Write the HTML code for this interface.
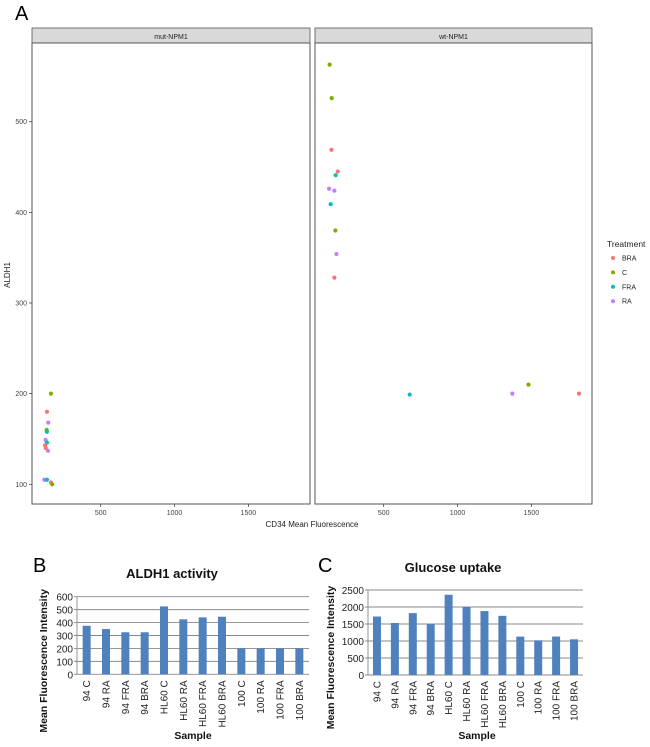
<!DOCTYPE html>
<html><head><meta charset="utf-8"><style>
body{margin:0;background:#fff;}
svg{display:block;font-family:"Liberation Sans",Arial,sans-serif;}
</style></head><body>
<svg id="fig" width="650" height="747" viewBox="0 0 650 747">
<text x="15" y="20" font-size="20">A</text>
<text x="33" y="572" font-size="20">B</text>
<text x="318" y="572" font-size="20">C</text>
<g id="scatter"></g>
<g id="barB"></g>
<g id="barC"></g>
</svg>
<script>
// ---- Scatter data ----
const treatments = ["BRA","C","FRA","RA"];
const treatColors = ["#F8766D","#7CAE00","#00BFC4","#C77CFF"];
const mutTreat = ["C","BRA","RA","C","FRA","RA","FRA","BRA","BRA","RA","RA","FRA","BRA","C"];
const mutX = [163,136,145,134,136,127,136,123,128,143,118,136,163,172];
const mutY = [200,180,168,160,158,149,146,143,140,137,105,105,102,100];
const wtTreat = ["C","C","BRA","BRA","FRA","RA","RA","FRA","C","RA","BRA","C","FRA","RA","BRA"];
const wtX = [134,148,146,189,175,130,166,141,173,180,166,1480,676,1371,1822];
const wtY = [563,526,469,445,441,426,424,409,380,354,328,210,199,200,200];
const xTicks = [500,1000,1500];
const yTicks = [100,200,300,400,500];

// ---- Bar data ----
const samples = ["94 C","94 RA","94 FRA","94 BRA","HL60 C","HL60 RA","HL60 FRA","HL60 BRA","100 C","100 RA","100 FRA","100 BRA"];
const aldhVals = [375,350,325,325,525,425,440,445,200,200,200,200];
const aldhTicks = [0,100,200,300,400,500,600];
const glucVals = [1720,1530,1820,1500,2360,2000,1880,1740,1130,1020,1130,1050];
const glucTicks = [0,500,1000,1500,2000,2500];

const NS="http://www.w3.org/2000/svg";
function mk(parent,tag,attrs,text){const e=document.createElementNS(NS,tag);for(const k in attrs)e.setAttribute(k,attrs[k]);if(text!==undefined)e.textContent=text;parent.appendChild(e);return e;}

// Scatter
const sc=document.getElementById('scatter');
const yS=v=>484.3-(v-100)*0.9065;
function facet(x0,x1,title,xs,ys,tr,name){
  const xS=v=>x0+68.7+(v-500)*0.1477;
  const g=mk(sc,'g',{});
  
  
  const strip=mk(g,'rect',{x:x0,y:28,width:x1-x0,height:15,fill:'#d9d9d9',stroke:'#555','stroke-width':0.8});
  
  
  const st=mk(g,'text',{x:(x0+x1)/2,y:39,'font-size':7,'text-anchor':'middle',fill:'#222'},title);
  
  
  const box=mk(g,'rect',{x:x0,y:43,width:x1-x0,height:461,fill:'#fff',stroke:'#555','stroke-width':1});
  
  
  xTicks.forEach(t=>{const x=xS(t);mk(g,'line',{x1:x,x2:x,y1:504,y2:507,stroke:'#333','stroke-width':0.7});
    const tt=mk(g,'text',{x:x,y:515,'font-size':7,'text-anchor':'middle',fill:'#444'},t);
    
    });
  xs.forEach((v,i)=>{const c=mk(g,'circle',{cx:xS(v),cy:yS(ys[i]),r:2.1,fill:treatColors[treatments.indexOf(tr[i])]});
    
    });
}
facet(32,310,'mut-NPM1',mutX,mutY,mutTreat,'facet-mut-npm1');
facet(315,592,'wt-NPM1',wtX,wtY,wtTreat,'facet-wt-npm1');
yTicks.forEach(t=>{const y=yS(t);mk(sc,'line',{x1:29,x2:32,y1:y,y2:y,stroke:'#333','stroke-width':0.7});
  const tt=mk(sc,'text',{x:27,y:y+2.5,'font-size':7,'text-anchor':'end',fill:'#444'},t);
  
  });
let t1=mk(sc,'text',{x:312,y:527,'font-size':8,'text-anchor':'middle',fill:'#222'},'CD34 Mean Fluorescence');


let t2=mk(sc,'text',{x:10,y:275,'font-size':8,'text-anchor':'middle',fill:'#222',transform:'rotate(-90 10 275)'},'ALDH1');


let lt=mk(sc,'text',{x:607,y:247,'font-size':8.5,fill:'#222'},'Treatment');


treatments.forEach((t,i)=>{const y=258+i*14.4;
  const d=mk(sc,'circle',{cx:613,cy:y,r:2,fill:treatColors[i]});
  
  
  const tx=mk(sc,'text',{x:622,y:y+2.5,'font-size':7,fill:'#222'},t);
  
  });

// Bars
function bars(id,vals,ticks,x0,x1,yTop,yBot,title,titleX,titleY,ytX,sampleX,key){
  const g=document.getElementById(id);
  const max=ticks[ticks.length-1];
  const yB=v=>yBot-(v/max)*(yBot-yTop);
  const slot=(x1-x0)/vals.length;
  ticks.forEach(t=>{const y=yB(t);
    mk(g,'line',{x1:x0-3,x2:x1,y1:y,y2:y,stroke:'#888','stroke-width':0.9});
    const tl=mk(g,'text',{x:x0-4,y:y+4,'font-size':10,'text-anchor':'end',fill:'#222'},t);
    
    });
  mk(g,'line',{x1:x0,x2:x0,y1:yTop,y2:yBot,stroke:'#888','stroke-width':0.9});
  vals.forEach((v,i)=>{const cx=x0+slot*(i+0.5);
    const r=mk(g,'rect',{x:cx-4,y:yB(v),width:8,height:yBot-yB(v),fill:'#4f81bd'});
    
    
    const lx=cx+3.5,ly=yBot+6;
    const l=mk(g,'text',{x:lx,y:ly,'font-size':10,'text-anchor':'end',fill:'#222',transform:`rotate(-90 ${lx} ${ly})`},samples[i]);
    
    });
  const tt=mk(g,'text',{x:titleX,y:titleY,'font-size':13,'font-weight':'bold','text-anchor':'middle',fill:'#111'},title);
  
  
  const yc=(yTop+745)/2-10;
  const yt=mk(g,'text',{x:ytX,y:yc,'font-size':10.5,'font-weight':'bold','text-anchor':'middle',fill:'#111',transform:`rotate(-90 ${ytX} ${yc})`},'Mean Fluorescence Intensity');
  
  
  const sx=mk(g,'text',{x:sampleX,y:739,'font-size':10.5,'font-weight':'bold','text-anchor':'middle',fill:'#111'},'Sample');
  
  
}
bars('barB',aldhVals,aldhTicks,77,309,596.7,674.3,'ALDH1 activity',172,578,47,193,'aldh1');
bars('barC',glucVals,glucTicks,368,583,590,675,'Glucose uptake',453,572,334,477,'glucose');
</script>
</body></html>
